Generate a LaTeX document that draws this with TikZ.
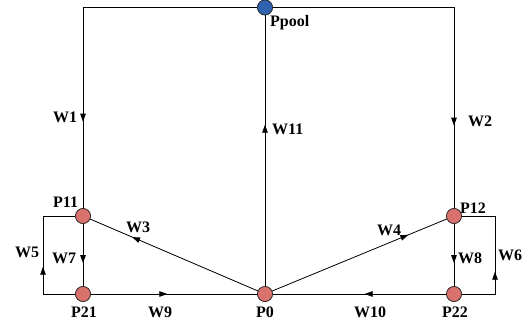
\documentclass[tikz,border=0pt]{standalone}
\usepackage{fontspec}
\setmainfont{Liberation Serif}
\usetikzlibrary{arrows.meta,decorations.markings}
\definecolor{pnode}{HTML}{D9716D}
\definecolor{bnode}{HTML}{2F63B0}
\tikzset{
  pt/.style={circle,draw=black!85,line width=0.6pt,fill=pnode,minimum size=15pt,inner sep=0pt},
  pool/.style={pt,fill=bnode},
  lab/.style={font=\fontsize{16}{19}\selectfont\bfseries,inner sep=0pt},
  wire/.style={line width=0.8pt,draw=black},
  marr/.style={postaction={decorate,decoration={markings,mark=at position #1 with {\arrow{Triangle[length=8pt,width=5.5pt]}}}}}
}
\begin{document}
\begin{tikzpicture}[x=1pt,y=-1pt]
\useasboundingbox (0,0) rectangle (528,324);
% nodes
\node[pool] (Ppool) at (265,7.5) {};
\node[pt] (P11) at (83,216) {};
\node[pt] (P12) at (454,216) {};
\node[pt] (P21) at (83,294) {};
\node[pt] (P0)  at (265,294) {};
\node[pt] (P22) at (454,294) {};
\coordinate (L1) at (43,294);
\coordinate (L2) at (43,216);
\coordinate (R1) at (495,294);
\coordinate (R2) at (495,216);
% connectors
\draw[wire,marr=-86.5pt] (Ppool) -| (P11);
\draw[wire,marr=-82.5pt] (Ppool) -| (P12);
\draw[wire,marr=161.5pt] (P0) -- (Ppool);
\draw[wire,marr=0.75] (P0) -- (P11);
\draw[wire,marr=0.78] (P0) -- (P12);
\draw[wire,marr=59.5pt] (P21) -- (L1) -- (L2) -- (P11);
\draw[wire,marr=55.5pt] (P22) -- (R1) -- (R2) -- (P12);
\draw[wire,marr=0.63] (P11) -- (P21);
\draw[wire,marr=0.63] (P12) -- (P22);
\draw[wire,marr=0.46] (P21) -- (P0);
\draw[wire,marr=0.47] (P22) -- (P0);
% redraw nodes on top
\node[pool] at (Ppool) {};
\foreach \n in {P11,P12,P21,P0,P22} \node[pt] at (\n) {};
% labels
\node[lab,anchor=base west] (tPpool) at (270,26) {Ppool};
\node[lab,anchor=base west] (tP11) at (53,207) {P11};
\node[lab,anchor=base west] (tP12) at (460,213) {P12};
\node[lab,anchor=base] (tP21) at (84,317) {P21};
\node[lab,anchor=base] (tP0) at (265,317) {P0};
\node[lab,anchor=base] (tP22) at (455,317) {P22};
\node[lab,anchor=base west] (tW1) at (53,122) {W1};
\node[lab,anchor=base west] (tW2) at (468,126) {W2};
\node[lab,anchor=base west] (tW11) at (272,134) {W11};
\node[lab,anchor=base west] (tW3) at (126,232) {W3};
\node[lab,anchor=base west] (tW4) at (377,235) {W4};
\node[lab,anchor=base west] (tW5) at (15,257) {W5};
\node[lab,anchor=base west] (tW7) at (52,263) {W7};
\node[lab,anchor=base west] (tW8) at (458,263) {W8};
\node[lab,anchor=base west] (tW6) at (498,260) {W6};
\node[lab,anchor=base] (tW9) at (160,317) {W9};
\node[lab,anchor=base] (tW10) at (370,317) {W10};
\end{tikzpicture}
\end{document}
